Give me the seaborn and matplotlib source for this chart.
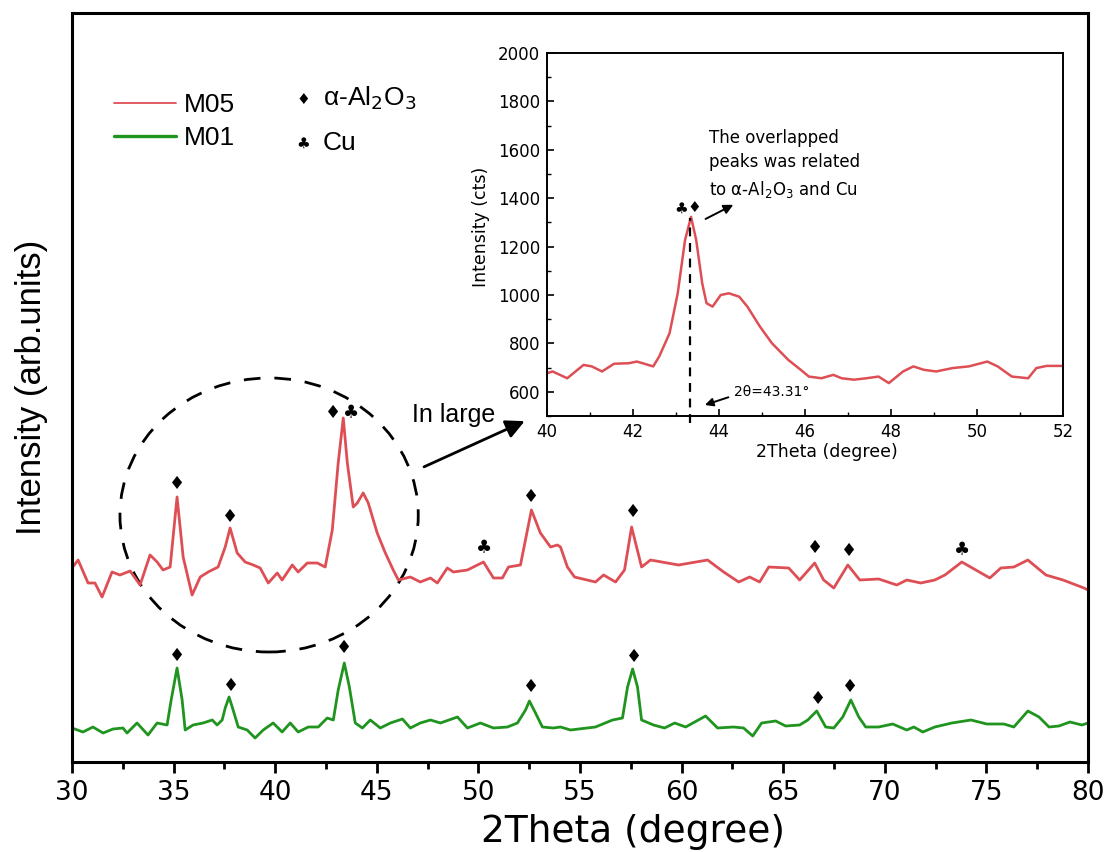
import numpy as np
import pandas as pd
import matplotlib
matplotlib.use("Agg")
import matplotlib.pyplot as plt
import seaborn as sns
from matplotlib.patches import Ellipse
from matplotlib.lines import Line2D
from matplotlib.ticker import MultipleLocator

sns.set_theme(style="white")
plt.rcParams['font.family'] = ['DejaVu Sans']
plt.rcParams['text.color'] = 'black'
plt.rcParams['axes.labelcolor'] = 'black'
plt.rcParams['xtick.color'] = 'black'
plt.rcParams['ytick.color'] = 'black'

# ---------------- data ----------------
m05_theta = [30.0, 30.3, 30.79, 31.13, 31.48, 31.97, 32.36, 32.86, 33.35, 33.84, 34.19, 34.48, 34.83,
             35.17, 35.47, 35.91, 36.31, 36.7, 37.19, 37.54, 37.78, 38.13, 38.52, 38.92, 39.26, 39.66,
             40.1, 40.34, 40.84, 41.13, 41.58, 42.07, 42.46, 42.81, 43.1, 43.35, 43.55, 43.84, 44.04,
             44.33, 44.58, 45.02, 45.42, 45.81, 46.06, 46.65, 47.14, 47.64, 47.98, 48.47, 48.77, 49.46,
             50.25, 50.74, 51.18, 51.48, 52.07, 52.61, 53.05, 53.55, 53.89, 54.04, 54.38, 54.73, 55.76,
             56.16, 56.75, 57.19, 57.54, 58.03, 58.47, 59.85, 61.28, 62.07, 62.81, 63.35, 63.84, 64.29,
             65.27, 65.81, 66.55, 66.99, 67.49, 68.18, 68.77, 69.7, 70.59, 71.08, 71.77, 72.46, 72.96,
             73.79, 74.48, 75.17, 75.71, 76.35, 77.04, 77.93, 78.77, 79.8, 80.0]
m05_int = [194, 202, 179, 179, 165, 190, 187, 191, 177, 207, 200, 192, 195,
           265, 205, 167, 185, 190, 195, 215, 234, 209, 200, 197, 194, 179,
           189, 182, 197, 190, 199, 199, 195, 232, 299, 344, 299, 255, 259,
           269, 259, 229, 209, 192, 182, 185, 180, 184, 179, 194, 190, 192,
           200, 184, 184, 195, 197, 252, 229, 215, 217, 215, 195, 185, 180,
           187, 180, 192, 235, 195, 202, 197, 202, 190, 180, 185, 180, 195,
           194, 182, 199, 182, 174, 197, 182, 183, 177, 182, 179, 182, 187,
           200, 192, 184, 194, 195, 202, 187, 182, 174, 172]

m01_theta = [30.0, 30.54, 31.03, 31.53, 32.02, 32.51, 32.71, 33.2, 33.74, 34.19, 34.68, 34.88, 35.17,
             35.42, 35.57, 35.96, 36.45, 36.9, 37.14, 37.39, 37.54, 37.73, 37.93, 38.18, 38.62, 39.01,
             39.41, 39.9, 40.34, 40.74, 41.13, 41.63, 42.12, 42.56, 42.86, 43.1, 43.4, 43.65, 43.94,
             44.29, 44.68, 45.17, 45.67, 46.26, 46.65, 47.14, 47.64, 48.13, 48.97, 49.46, 50.1, 50.74,
             51.43, 51.92, 52.32, 52.51, 52.81, 53.15, 53.69, 54.04, 54.53, 55.76, 56.6, 57.09, 57.34,
             57.59, 57.83, 58.03, 58.62, 59.16, 59.66, 60.2, 61.18, 61.77, 62.56, 63.05, 63.5, 63.94,
             64.63, 65.12, 65.81, 66.21, 66.65, 67.09, 67.49, 67.93, 68.33, 68.72, 69.06, 69.7, 70.39,
             71.08, 71.43, 71.87, 72.46, 73.3, 74.24, 75.02, 75.86, 76.35, 77.04, 77.59, 78.08, 78.57,
             79.11, 79.7, 80.0]
m01_int = [34, 30, 35, 29, 33, 34, 29, 39, 27, 39, 37, 62, 94,
           62, 32, 37, 39, 42, 37, 42, 54, 65, 52, 35, 32, 24,
           32, 39, 30, 39, 30, 35, 35, 44, 42, 72, 99, 75, 39,
           34, 42, 34, 39, 43, 34, 39, 42, 39, 45, 34, 39, 34,
           35, 39, 52, 61, 49, 35, 34, 35, 32, 35, 42, 44, 75,
           93, 75, 42, 37, 34, 39, 35, 46, 34, 35, 34, 26, 39,
           41, 36, 37, 42, 51, 35, 34, 45, 62, 45, 35, 35, 38,
           32, 35, 30, 35, 39, 42, 38, 38, 35, 51, 45, 35, 36,
           40, 37, 39]

# peak labels: (2theta, height, symbol)
m05_marks_theta = [35.17, 37.8, 42.85, 43.72, 50.3, 52.6, 57.59, 66.55, 68.23, 73.79]
m05_marks_int = [278, 245, 349, 349, 214, 265, 250, 214, 211, 212]
m05_marks_sym = ['♦', '♦', '♦', '♣', '♣', '♦', '♦', '♦', '♦', '♣']
m01_marks_theta = [35.17, 37.83, 43.4, 52.6, 57.64, 66.7, 68.28]
m01_marks_int = [106, 76, 114, 75, 105, 63, 75]
m01_marks_sym = ['♦'] * 7

# inset (zoomed M05, cts)
ins_theta = [40.0, 40.13, 40.47, 40.85, 41.04, 41.28, 41.56, 41.9, 42.09, 42.47, 42.61, 42.85, 43.04,
             43.21, 43.35, 43.47, 43.61, 43.71, 43.85, 44.04, 44.23, 44.47, 44.66, 44.95, 45.23, 45.61,
             45.9, 46.09, 46.38, 46.66, 46.85, 47.14, 47.43, 47.71, 47.95, 48.28, 48.52, 48.76, 49.05,
             49.43, 49.81, 50.24, 50.48, 50.81, 51.19, 51.38, 51.62, 52.0]
ins_cts = [677, 684, 656, 711, 705, 684, 716, 718, 725, 705, 746, 842, 1007,
           1227, 1323, 1227, 1048, 966, 952, 1000, 1007, 993, 952, 870, 801, 732,
           691, 663, 656, 670, 656, 650, 656, 663, 636, 684, 705, 691, 684,
           698, 705, 725, 705, 663, 656, 698, 707, 707]

red = '#dd4f55'
green = '#1f941f'

# ---------------- figure ----------------
fig = plt.figure(figsize=(11.07, 8.52), dpi=100)
ax = fig.add_axes([72 / 1107, 1 - 762 / 852, 1016 / 1107, 749 / 852])

df05 = pd.DataFrame({'theta': m05_theta, 'I': m05_int})
df01 = pd.DataFrame({'theta': m01_theta, 'I': m01_int})
sns.lineplot(data=df05, x='theta', y='I', ax=ax, color=red, lw=2.0, estimator=None, sort=False)
sns.lineplot(data=df01, x='theta', y='I', ax=ax, color=green, lw=2.0, estimator=None, sort=False)

for t, v, s in zip(m05_marks_theta, m05_marks_int, m05_marks_sym):
    ax.text(t, v, s, ha='center', va='center', fontsize=13, color='black')
for t, v, s in zip(m01_marks_theta, m01_marks_int, m01_marks_sym):
    ax.text(t, v, s, ha='center', va='center', fontsize=13, color='black')

ax.set_xlim(30, 80)
ax.set_ylim(0, 749)
ax.set_yticks([])
ax.xaxis.set_major_locator(MultipleLocator(5))
ax.xaxis.set_minor_locator(MultipleLocator(2.5))
ax.tick_params(axis='x', which='major', direction='out', length=8, width=2, labelsize=19, pad=5,
               bottom=True, color='black', labelcolor='black')
ax.tick_params(axis='x', which='minor', direction='out', length=5, width=2, bottom=True, color='black')
for sp in ax.spines.values():
    sp.set_color('black')
    sp.set_linewidth(2.2)
ax.set_xlabel('2Theta (degree)', fontsize=27, color='black')
ax.xaxis.set_label_coords(0.552, -0.069)
ax.set_ylabel('Intensity (arb.units)', fontsize=25, family=['Liberation Sans', 'DejaVu Sans'],
              color='black')
ax.yaxis.set_label_coords(-0.024, 0.5)

# dashed circle around the main overlapped region
ell = Ellipse((39.7, 247), width=14.68, height=274, fill=False, ls=(0, (6, 5)), lw=2, ec='black')
ax.add_patch(ell)
ax.annotate('', xy=(52.4, 342), xytext=(47.2, 294),
            arrowprops=dict(arrowstyle='-|>', color='black', lw=2, mutation_scale=28))
ax.text(46.75, 347, 'In large', fontsize=18, va='center', ha='left',
        family=['Liberation Sans', 'DejaVu Sans'])

# legend
handles = [Line2D([], [], color=red, lw=1.3), Line2D([], [], color=green, lw=2.4)]
leg = ax.legend(handles, ['M05', 'M01'], loc='upper left', bbox_to_anchor=(0.041, 0.893),
                frameon=False, handlelength=2.35, handletextpad=0.3,
                labelspacing=0.34, borderpad=0, borderaxespad=0,
                prop={'family': ['Liberation Sans', 'DejaVu Sans'], 'size': 19})
for t in leg.get_texts():
    t.set_color('black')
ax.text(0.2274, 0.884, '♦', transform=ax.transAxes, fontsize=11, ha='center', va='center')
ax.text(0.2274, 0.826, '♣', transform=ax.transAxes, fontsize=11, ha='center', va='center')
ax.text(0.247, 0.886, 'α-Al$_2$O$_3$', transform=ax.transAxes, fontsize=19, ha='left', va='center',
        family=['Liberation Sans', 'DejaVu Sans'])
ax.text(0.247, 0.826, 'Cu', transform=ax.transAxes, fontsize=19, ha='left', va='center',
        family=['Liberation Sans', 'DejaVu Sans'])

# ---------------- inset ----------------
axi = fig.add_axes([547 / 1107, 1 - 416 / 852, 516 / 1107, 363 / 852])
axi.set_facecolor('white')
dfi = pd.DataFrame({'theta': ins_theta, 'I': ins_cts})
sns.lineplot(data=dfi, x='theta', y='I', ax=axi, color=red, lw=1.8, estimator=None, sort=False)
axi.set_xlim(40, 52)
axi.set_ylim(500, 2000)
axi.xaxis.set_major_locator(MultipleLocator(2))
axi.xaxis.set_minor_locator(MultipleLocator(1))
axi.yaxis.set_major_locator(MultipleLocator(200))
axi.yaxis.set_minor_locator(MultipleLocator(100))
axi.set_yticks([600, 800, 1000, 1200, 1400, 1600, 1800, 2000])
axi.tick_params(which='major', direction='in', length=5, width=1.2, labelsize=12, pad=5,
                left=True, bottom=True, color='black', labelcolor='black')
axi.tick_params(which='minor', direction='in', length=3, width=1.0, left=True, bottom=True, color='black')
for sp in axi.spines.values():
    sp.set_color('black')
    sp.set_linewidth(1.4)
axi.set_xlabel('2Theta (degree)', fontsize=12.5, color='black')
axi.xaxis.set_label_coords(0.543, -0.075)
axi.set_ylabel('Intensity (cts)', fontsize=12.5, color='black')
axi.yaxis.set_label_coords(-0.11, 0.52)

axi.plot([43.33, 43.33], [470, 1320], ls=(0, (4, 3)), color='black', lw=1.6, clip_on=False)
axi.text(43.11, 1360, '♣', fontsize=11, ha='center', va='center')
axi.text(43.42, 1360, '♦', fontsize=11, ha='center', va='center')
axi.annotate('', xy=(44.39, 1378), xytext=(43.63, 1309),
             arrowprops=dict(arrowstyle='-|>', color='black', lw=1.4, mutation_scale=14))
axi.text(43.76, 1540, 'The overlapped\npeaks was related\nto α-Al$_2$O$_3$ and Cu',
         fontsize=12, ha='left', va='center', linespacing=1.45)
axi.annotate('', xy=(43.61, 542), xytext=(44.28, 581),
             arrowprops=dict(arrowstyle='-|>', color='black', lw=1.4, mutation_scale=12))
axi.text(44.36, 601, '2θ=43.31°', fontsize=10, ha='left', va='center')

fig.savefig('out.png', dpi=100)
